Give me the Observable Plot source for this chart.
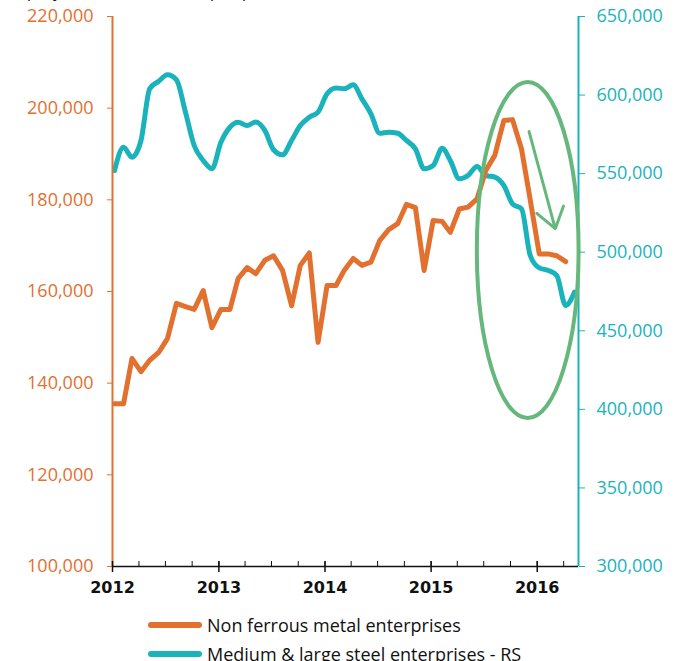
<!DOCTYPE html>
<html>
<head>
<meta charset="utf-8">
<script src="https://cdn.jsdelivr.net/npm/d3@7"></script>
<script src="https://cdn.jsdelivr.net/npm/@observablehq/plot@0.6"></script>
<style>
  body { margin: 0; background: #fff; font-family: "Open Sans", sans-serif; }
  #wrap { position: relative; width: 681px; height: 661px; overflow: hidden; background: #fff; }
  #title { position: absolute; left: 0; top: -19px; font-size: 18px; line-height: 18px; color: #222; white-space: nowrap; }
  #chart { position: absolute; left: 0; top: 0; }
  .leg { position: absolute; left: 148px; height: 24px; display: flex; align-items: center; font-size: 18px; color: #111; white-space: nowrap; }
  .sw { width: 54px; height: 6px; border-radius: 3px; margin-right: 5px; }
</style>
</head>
<body>
<div id="wrap">
  <div id="title">Employment (number of people)</div>
  <div id="chart"></div>
  <div class="leg" style="top:613px"><span class="sw" style="background:#e2702f"></span>Non ferrous metal enterprises</div>
  <div class="leg" style="top:642px"><span class="sw" style="background:#1ab3bb"></span>Medium &amp; large steel enterprises - RS</div>
</div>
<script>
// ---- Data (monthly, Jan 2012 onward) ----
const startYear = 2012;
const nonFerrous = [
  135500, 135500, 145400, 142500, 145000, 146700, 149700, 157400, 156700, 156100, 160200, 152100,
  156100, 156100, 162800, 165200, 163900, 166800, 167800, 164600, 156900, 165700, 168400, 148900,
  161300, 161300, 164600, 167200, 165700, 166400, 171100, 173500, 174800, 179000, 178300, 164600,
  175500, 175300, 172900, 178000, 178400, 180200, 186400, 189700, 197300, 197500, 191100, 180000,
  168200, 168200, 167800, 166500
];
const steel = [
  552000, 566800, 560500, 571100, 604000, 608800, 612900, 609700, 589100, 567900, 558400, 553100,
  569900, 579500, 582700, 580600, 582900, 577500, 565200, 562000, 571100, 580600, 585900, 589100,
  600800, 604500, 604000, 606500, 597600, 588100, 575700, 576400, 575700, 571100, 565800, 553100,
  555200, 566100, 558400, 546700, 548800, 554500, 548800, 547800, 542500, 530800, 527600, 497900,
  490000, 488400, 485200, 466100, 474600
];
const leftTicks = [100000, 120000, 140000, 160000, 180000, 200000, 220000];
const rightTicks = [300000, 350000, 400000, 450000, 500000, 550000, 600000, 650000];
const yearTicks = [2012, 2013, 2014, 2015, 2016];
const legendLabels = ["Non ferrous metal enterprises", "Medium & large steel enterprises - RS"];

// annotation (in data terms)
const ellipseBox = { x1: new Date(Date.UTC(2015, 5, 9)), x2: new Date(Date.UTC(2016, 4, 24)), top: 205600, bottom: 132300 };
const arrowData = [{ x1: new Date(Date.UTC(2015, 11, 4)), y1: 194900, x2: new Date(Date.UTC(2016, 2, 3)), y2: 173700 }];

const ORANGE = "#e2702f", TEAL = "#1ab3bb", GREEN = "#66b77c";
const leftDomain = [100000, 220000], rightDomain = [300000, 650000];
const toLeft = v => leftDomain[0] + (v - rightDomain[0]) * (leftDomain[1] - leftDomain[0]) / (rightDomain[1] - rightDomain[0]);
const toRight = v => rightDomain[0] + (v - leftDomain[0]) * (rightDomain[1] - rightDomain[0]) / (leftDomain[1] - leftDomain[0]);
const monthDate = i => new Date(Date.UTC(startYear, i, 8));

const orangeData = nonFerrous.map((v, i) => ({ date: monthDate(i), value: v }));
const tealData = steel.map((v, i) => ({ date: monthDate(i), value: toLeft(v) }));

const xStart = new Date(Date.UTC(2012, 0, 1)), xEnd = new Date(Date.UTC(2016, 4, 22));
const years = yearTicks.map(y => new Date(Date.UTC(y, 0, 1)));
const quarters = d3.utcMonth.every(3).range(xStart, xEnd);
const fmt = d3.format(",");

const ellipseMark = (index, scales) => {
  const ns = "http://www.w3.org/2000/svg";
  const e = document.createElementNS(ns, "ellipse");
  const xa = scales.x(ellipseBox.x1), xb = scales.x(ellipseBox.x2);
  const ya = scales.y(ellipseBox.top), yb = scales.y(ellipseBox.bottom);
  e.setAttribute("cx", (xa + xb) / 2);
  e.setAttribute("cy", (ya + yb) / 2);
  e.setAttribute("rx", Math.abs(xb - xa) / 2);
  e.setAttribute("ry", Math.abs(yb - ya) / 2);
  e.setAttribute("fill", "none");
  e.setAttribute("stroke", GREEN);
  e.setAttribute("stroke-width", 4);
  return e;
};

const chart = Plot.plot({
  width: 681,
  height: 610,
  marginTop: 16,
  marginBottom: 44,
  marginLeft: 112,
  marginRight: 103,
  style: { fontFamily: "Open Sans, sans-serif", background: "transparent", overflow: "visible" },
  x: { type: "utc", domain: [xStart, xEnd] },
  y: { domain: leftDomain },
  marks: [
    Plot.line(tealData, { x: "date", y: "value", stroke: TEAL, strokeWidth: 5, curve: "monotone-x", strokeLinejoin: "round", strokeLinecap: "round" }),
    Plot.line(orangeData, { x: "date", y: "value", stroke: ORANGE, strokeWidth: 5, strokeLinejoin: "round", strokeLinecap: "round" }),
    Plot.ruleX([xStart], { stroke: ORANGE, strokeWidth: 2 }),
    Plot.ruleX([xEnd], { stroke: TEAL, strokeWidth: 2 }),
    Plot.axisY(leftTicks, { anchor: "left", tickSize: 5, tickPadding: 14, tickFormat: fmt, color: ORANGE, fontSize: 18, letterSpacing: 0.8, label: null }),
    Plot.axisY(rightTicks.map(toLeft), { anchor: "right", tickSize: 6, tickPadding: 12, tickFormat: d => fmt(Math.round(toRight(d))), color: TEAL, fontSize: 18, letterSpacing: 0.8, label: null }),
    Plot.axisX(quarters, { anchor: "bottom", tickSize: 5, dy: -5, tickFormat: () => "", stroke: "#111", label: null }),
    Plot.axisX(years, { anchor: "bottom", tickSize: 11, dy: -5, tickFormat: () => "", stroke: "#111", strokeWidth: 1.5, label: null }),
    Plot.axisX(years, { anchor: "bottom", tickSize: 0, tickPadding: 15, tickFormat: "%Y", fontSize: 16, fontWeight: "bold", fontFamily: "DejaVu Sans", fill: "#111", label: null }),
    Plot.ruleY([leftDomain[0]], { stroke: "#111", strokeWidth: 1.5 }),
    ellipseMark,
    Plot.arrow(arrowData, { x1: "x1", y1: "y1", x2: "x2", y2: "y2", stroke: GREEN, strokeWidth: 3, headLength: 12, headAngle: 70 })
  ]
});
document.getElementById("chart").appendChild(chart);
</script>
</body>
</html>
